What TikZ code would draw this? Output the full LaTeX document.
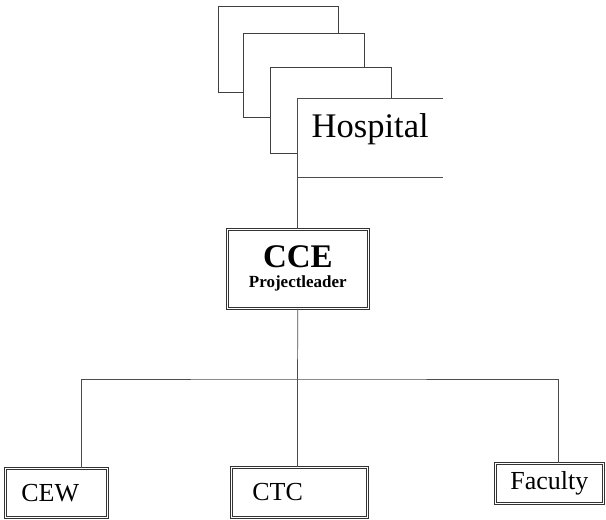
\documentclass[tikz,border=0pt]{standalone}
\usepackage{fontspec}
\setmainfont{Liberation Serif}
\begin{document}
\begin{tikzpicture}[
    x=1pt, y=-1pt,
    page/.style={draw=black!75, line width=0.7pt, fill=white, anchor=north west},
    boxline/.style={draw=black!80, line width=0.7pt, double, double distance=1.2pt},
    unitbox/.style={boxline, anchor=north west, align=left, font=\fontsize{26}{28}\selectfont},
    leadbox/.style={boxline, anchor=north west, inner xsep=0pt, text width=141pt, minimum height=79pt, align=center, font=\fontsize{17}{20}\selectfont\bfseries},
    link/.style={draw=black!70, line width=0.7pt}
]
    \useasboundingbox (0,0) rectangle (606,520);
    % stack of hospital pages
    \node[page, minimum width=120pt, minimum height=86pt] (pagea) at (218,6) {};
    \node[page, minimum width=121pt, minimum height=84pt] (pageb) at (243,33) {};
    \node[page, minimum width=121pt, minimum height=86pt] (pagec) at (270,67) {};
    \node[fill=white, anchor=north west, inner xsep=0pt, inner ysep=15pt, text depth=25pt, minimum width=146pt, font=\fontsize{34.5}{40}\selectfont] (hosp) at (297,98) {Hospital};
    \draw[link] (hosp.north east) -- (hosp.north west) -- (hosp.south west) -- (hosp.south east);

    \node[leadbox] (cce) at (227,229) {{\fontsize{33}{20}\selectfont CCE}\\Projectleader};

    \node[unitbox, inner xsep=16pt, text width=70pt, minimum height=49pt] (cew) at (5,468) {CEW};
    \node[unitbox, inner xsep=21pt, text width=94pt, minimum height=50pt] (ctc) at (231,467) {CTC};
    \node[unitbox, inner xsep=15pt, text width=78pt, minimum height=40pt] (fac) at (495,463) {Faculty};

    \coordinate (bus) at (297.5,379);
    \coordinate (cewtop) at ([xshift=25pt]cew.north);
    \coordinate (factop) at ([xshift=9pt]fac.north);

    \draw[link] (hosp.south west) -- (hosp.south west |- cce.north);
    \draw[link] (cce.south) -- (bus);
    \draw[link] (cewtop) |- (bus) -| (factop);
    \draw[link] (bus) -- (bus |- ctc.north);
\end{tikzpicture}
\end{document}
